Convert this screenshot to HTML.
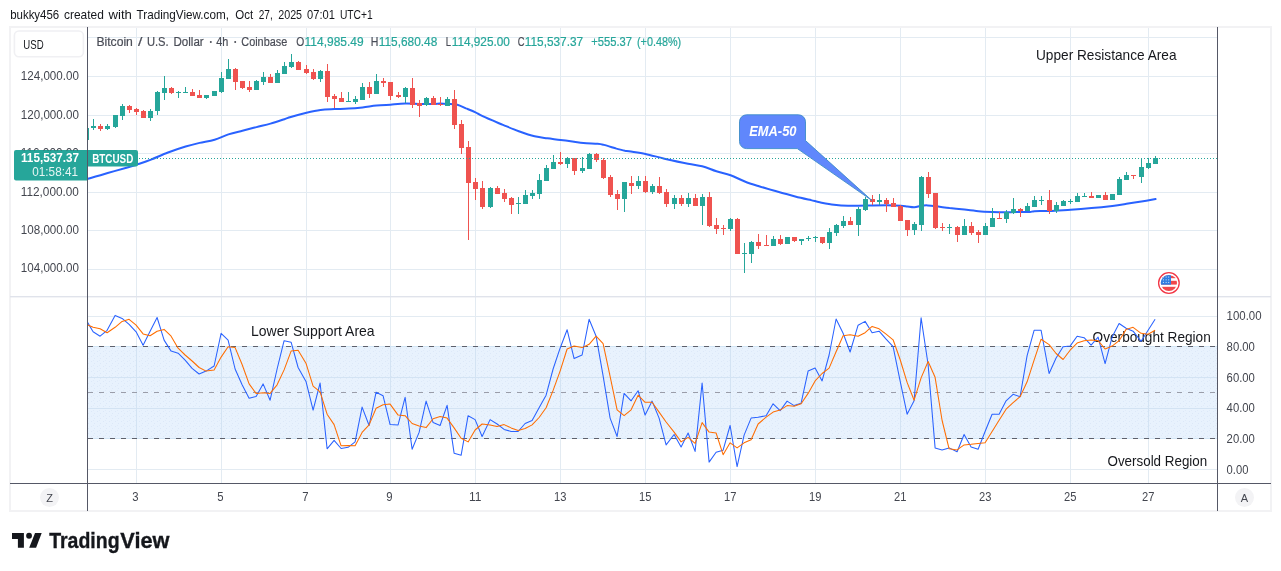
<!DOCTYPE html><html><head><meta charset="utf-8"><title>BTCUSD</title><style>
html,body{margin:0;padding:0;background:#fff;}body{width:1281px;height:571px;overflow:hidden;position:relative;font-family:"Liberation Sans",sans-serif;}
svg{position:absolute;left:0;top:0;display:block;will-change:transform;}text{font-family:"Liberation Sans",sans-serif;}
</style></head><body>
<svg width="1281" height="571" viewBox="0 0 1281 571">
<rect x="0" y="0" width="1281" height="571" fill="#fff"/>
<g shape-rendering="crispEdges">
<rect x="10" y="27" width="1261" height="484" fill="#fff" stroke="#f2f2f4" stroke-width="2"/>
<line x1="136.5" y1="28" x2="136.5" y2="483" stroke="#e3ebf2" stroke-width="1"/>
<line x1="221.5" y1="28" x2="221.5" y2="483" stroke="#e3ebf2" stroke-width="1"/>
<line x1="306.5" y1="28" x2="306.5" y2="483" stroke="#e3ebf2" stroke-width="1"/>
<line x1="390.5" y1="28" x2="390.5" y2="483" stroke="#e3ebf2" stroke-width="1"/>
<line x1="475.5" y1="28" x2="475.5" y2="483" stroke="#e3ebf2" stroke-width="1"/>
<line x1="560.5" y1="28" x2="560.5" y2="483" stroke="#e3ebf2" stroke-width="1"/>
<line x1="645.5" y1="28" x2="645.5" y2="483" stroke="#e3ebf2" stroke-width="1"/>
<line x1="730.5" y1="28" x2="730.5" y2="483" stroke="#e3ebf2" stroke-width="1"/>
<line x1="815.5" y1="28" x2="815.5" y2="483" stroke="#e3ebf2" stroke-width="1"/>
<line x1="900.5" y1="28" x2="900.5" y2="483" stroke="#e3ebf2" stroke-width="1"/>
<line x1="985.5" y1="28" x2="985.5" y2="483" stroke="#e3ebf2" stroke-width="1"/>
<line x1="1070.5" y1="28" x2="1070.5" y2="483" stroke="#e3ebf2" stroke-width="1"/>
<line x1="1148.5" y1="28" x2="1148.5" y2="483" stroke="#e3ebf2" stroke-width="1"/>
<line x1="88" y1="37.5" x2="1217" y2="37.5" stroke="#e3ebf2" stroke-width="1"/>
<line x1="88" y1="76.5" x2="1217" y2="76.5" stroke="#e3ebf2" stroke-width="1"/>
<line x1="88" y1="115.5" x2="1217" y2="115.5" stroke="#e3ebf2" stroke-width="1"/>
<line x1="88" y1="153.5" x2="1217" y2="153.5" stroke="#e3ebf2" stroke-width="1"/>
<line x1="88" y1="192.5" x2="1217" y2="192.5" stroke="#e3ebf2" stroke-width="1"/>
<line x1="88" y1="230.5" x2="1217" y2="230.5" stroke="#e3ebf2" stroke-width="1"/>
<line x1="88" y1="269.5" x2="1217" y2="269.5" stroke="#e3ebf2" stroke-width="1"/>
<line x1="88" y1="316.5" x2="1217" y2="316.5" stroke="#e3ebf2" stroke-width="1"/>
<line x1="88" y1="346.5" x2="1217" y2="346.5" stroke="#e3ebf2" stroke-width="1"/>
<line x1="88" y1="377.5" x2="1217" y2="377.5" stroke="#e3ebf2" stroke-width="1"/>
<line x1="88" y1="408.5" x2="1217" y2="408.5" stroke="#e3ebf2" stroke-width="1"/>
<line x1="88" y1="438.5" x2="1217" y2="438.5" stroke="#e3ebf2" stroke-width="1"/>
<line x1="88" y1="469.5" x2="1217" y2="469.5" stroke="#e3ebf2" stroke-width="1"/>
</g>
<rect x="88" y="346" width="1129" height="93" fill="#e8f2fd"/>
<defs><pattern id="stip" width="6" height="5" patternUnits="userSpaceOnUse"><rect x="1" y="1" width="1" height="1" fill="#dce8f8"/><rect x="4" y="3" width="1" height="1" fill="#dce8f8"/><rect x="3" y="0" width="1" height="1" fill="#e0ebf9"/></pattern></defs>
<rect x="88" y="347" width="1129" height="91" fill="url(#stip)"/>
<rect x="88" y="346" width="1129" height="1" fill="#d3e6f5"/>
<rect x="88" y="438" width="1129" height="1" fill="#d3e6f5"/>
<g shape-rendering="crispEdges">
<line x1="136.5" y1="347" x2="136.5" y2="438" stroke="#d3e3f3" stroke-width="1"/>
<line x1="221.5" y1="347" x2="221.5" y2="438" stroke="#d3e3f3" stroke-width="1"/>
<line x1="306.5" y1="347" x2="306.5" y2="438" stroke="#d3e3f3" stroke-width="1"/>
<line x1="390.5" y1="347" x2="390.5" y2="438" stroke="#d3e3f3" stroke-width="1"/>
<line x1="475.5" y1="347" x2="475.5" y2="438" stroke="#d3e3f3" stroke-width="1"/>
<line x1="560.5" y1="347" x2="560.5" y2="438" stroke="#d3e3f3" stroke-width="1"/>
<line x1="645.5" y1="347" x2="645.5" y2="438" stroke="#d3e3f3" stroke-width="1"/>
<line x1="730.5" y1="347" x2="730.5" y2="438" stroke="#d3e3f3" stroke-width="1"/>
<line x1="815.5" y1="347" x2="815.5" y2="438" stroke="#d3e3f3" stroke-width="1"/>
<line x1="900.5" y1="347" x2="900.5" y2="438" stroke="#d3e3f3" stroke-width="1"/>
<line x1="985.5" y1="347" x2="985.5" y2="438" stroke="#d3e3f3" stroke-width="1"/>
<line x1="1070.5" y1="347" x2="1070.5" y2="438" stroke="#d3e3f3" stroke-width="1"/>
<line x1="1148.5" y1="347" x2="1148.5" y2="438" stroke="#d3e3f3" stroke-width="1"/>
<line x1="88" y1="377.5" x2="1217" y2="377.5" stroke="#d3e3f3" stroke-width="1"/>
<line x1="88" y1="408.5" x2="1217" y2="408.5" stroke="#d3e3f3" stroke-width="1"/>
<line x1="88" y1="346.5" x2="1217" y2="346.5" stroke="#5d606b" stroke-width="1" stroke-dasharray="5 6"/>
<line x1="88" y1="438.5" x2="1217" y2="438.5" stroke="#5d606b" stroke-width="1" stroke-dasharray="5 6"/>
<line x1="88" y1="392.5" x2="1217" y2="392.5" stroke="#9a9da9" stroke-width="1" stroke-dasharray="5 6"/>
</g>
<rect x="10" y="296" width="1261" height="1.4" fill="#e0e3eb"/>
<path d="M88.0,178.9 C91.3,177.9 101.1,174.9 107.7,173.0 C114.3,171.1 122.4,168.9 127.4,167.5 C132.4,166.1 133.7,165.6 137.6,164.3 C141.5,163.0 145.9,161.6 151.0,159.6 C156.1,157.6 162.2,154.7 168.0,152.5 C173.8,150.3 180.3,148.1 185.6,146.5 C190.9,144.9 194.8,144.0 199.6,142.9 C204.4,141.8 209.8,141.1 214.6,139.7 C219.4,138.3 223.8,135.9 228.4,134.4 C233.0,132.9 237.7,131.9 242.4,130.7 C247.1,129.5 251.8,128.3 256.5,127.1 C261.2,125.9 265.9,124.9 270.5,123.6 C275.1,122.3 281.0,120.3 284.4,119.2 C287.8,118.1 287.1,118.1 290.8,117.0 C294.4,115.9 301.6,113.9 306.5,112.7 C311.5,111.5 315.9,110.5 320.5,109.9 C325.2,109.3 329.9,109.3 334.6,109.1 C339.3,108.9 344.0,108.9 348.6,108.6 C353.3,108.4 357.8,108.0 362.5,107.5 C367.1,107.0 371.8,106.1 376.5,105.6 C381.2,105.2 385.7,105.0 390.5,104.7 C395.3,104.3 400.5,103.7 405.3,103.6 C410.2,103.5 414.8,103.8 419.5,103.9 C424.2,104.0 430.0,103.9 433.4,103.9 C436.8,103.9 437.7,103.6 440.0,103.6 C442.3,103.6 444.5,103.7 447.4,103.9 C450.3,104.1 454.2,104.0 457.3,104.7 C460.4,105.5 463.0,107.1 466.0,108.4 C469.0,109.6 472.7,111.0 475.5,112.3 C478.2,113.6 478.0,114.1 482.6,116.2 C487.1,118.4 497.0,122.4 503.0,124.9 C509.1,127.4 513.5,129.3 518.8,131.2 C524.1,133.1 529.8,135.1 534.6,136.3 C539.3,137.4 542.8,137.7 547.2,138.3 C551.5,138.9 556.1,139.3 560.6,139.9 C565.0,140.5 570.2,141.3 574.0,141.8 C577.8,142.3 579.5,142.7 583.4,143.0 C587.4,143.4 594.2,143.5 597.6,143.8 C601.0,144.1 600.8,144.1 603.9,144.9 C607.1,145.7 613.0,147.6 616.5,148.6 C620.0,149.5 622.9,150.3 625.0,150.8 C627.1,151.2 625.7,150.7 629.1,151.2 C632.5,151.8 639.6,152.7 645.5,153.9 C651.4,155.2 657.3,157.0 664.4,158.7 C671.5,160.3 681.7,162.5 688.0,163.7 C694.3,165.0 697.5,165.0 702.2,166.2 C707.0,167.5 711.7,169.8 716.4,171.3 C721.1,172.8 725.9,173.5 730.6,175.2 C735.3,176.9 740.1,179.7 744.8,181.5 C749.5,183.4 753.7,184.6 759.0,186.2 C764.2,187.9 770.3,189.6 776.3,191.3 C782.3,193.0 789.4,195.0 795.2,196.5 C801.0,198.0 806.9,199.2 811.0,200.1 C815.1,201.1 815.9,201.5 819.8,202.3 C823.6,203.0 829.2,204.1 834.0,204.7 C838.7,205.2 844.1,205.6 848.1,205.8 C852.2,205.9 854.3,205.8 858.4,205.8 C862.4,205.7 867.8,205.5 872.5,205.4 C877.1,205.3 881.8,205.2 886.5,205.2 C891.2,205.3 897.2,205.5 900.7,205.7 C904.1,205.9 905.0,206.2 907.3,206.5 C909.6,206.8 912.0,207.4 914.4,207.3 C916.7,207.1 919.2,206.0 921.5,205.7 C923.7,205.4 925.4,205.3 927.8,205.4 C930.1,205.5 931.9,205.7 935.5,206.2 C939.1,206.6 944.7,207.5 949.5,208.1 C954.4,208.6 959.7,209.1 964.5,209.6 C969.3,210.2 973.8,210.8 978.5,211.2 C983.2,211.6 987.9,211.8 992.5,212.0 C997.2,212.2 1001.9,212.3 1006.6,212.3 C1011.2,212.3 1016.5,212.1 1020.4,212.0 C1024.3,212.0 1027.7,212.2 1030.0,212.0 C1032.3,211.9 1031.2,211.4 1034.5,211.2 C1037.7,211.0 1043.4,211.2 1049.4,210.9 C1055.4,210.7 1063.6,210.1 1070.7,209.7 C1077.7,209.2 1084.5,208.7 1091.5,208.1 C1098.4,207.5 1106.6,206.6 1112.4,205.9 C1118.3,205.2 1121.6,204.6 1126.5,203.8 C1131.3,203.1 1136.6,202.3 1141.4,201.5 C1146.3,200.7 1153.2,199.5 1155.6,199.1" fill="none" stroke="#2962ff" stroke-width="2" stroke-linejoin="round" stroke-linecap="round"/>
<g shape-rendering="crispEdges">
<rect x="88" y="128" width="1" height="12" fill="#26a69a"/>
<rect x="93" y="119" width="1" height="11" fill="#26a69a"/>
<rect x="91" y="126" width="5" height="2" fill="#26a69a"/>
<rect x="100" y="124" width="1" height="7" fill="#ef5350"/>
<rect x="98" y="126" width="5" height="3" fill="#ef5350"/>
<rect x="107" y="124" width="1" height="6" fill="#26a69a"/>
<rect x="105" y="126" width="5" height="3" fill="#26a69a"/>
<rect x="115" y="115" width="1" height="13" fill="#26a69a"/>
<rect x="113" y="115" width="5" height="12" fill="#26a69a"/>
<rect x="122" y="104" width="1" height="16" fill="#26a69a"/>
<rect x="120" y="106" width="5" height="10" fill="#26a69a"/>
<rect x="129" y="105" width="1" height="8" fill="#ef5350"/>
<rect x="127" y="106" width="5" height="4" fill="#ef5350"/>
<rect x="136" y="108" width="1" height="7" fill="#ef5350"/>
<rect x="134" y="109" width="5" height="3" fill="#ef5350"/>
<rect x="143" y="110" width="1" height="8" fill="#ef5350"/>
<rect x="141" y="111" width="5" height="7" fill="#ef5350"/>
<rect x="150" y="109" width="1" height="12" fill="#26a69a"/>
<rect x="148" y="111" width="5" height="7" fill="#26a69a"/>
<rect x="157" y="91" width="1" height="24" fill="#26a69a"/>
<rect x="155" y="92" width="5" height="19" fill="#26a69a"/>
<rect x="164" y="76" width="1" height="24" fill="#26a69a"/>
<rect x="162" y="88" width="5" height="5" fill="#26a69a"/>
<rect x="171" y="87" width="1" height="7" fill="#ef5350"/>
<rect x="169" y="88" width="5" height="5" fill="#ef5350"/>
<rect x="178" y="91" width="1" height="7" fill="#26a69a"/>
<rect x="176" y="92" width="5" height="1" fill="#26a69a"/>
<rect x="185" y="87" width="1" height="6" fill="#26a69a"/>
<rect x="183" y="92" width="5" height="1" fill="#26a69a"/>
<rect x="192" y="89" width="1" height="7" fill="#ef5350"/>
<rect x="190" y="92" width="5" height="4" fill="#ef5350"/>
<rect x="199" y="90" width="1" height="8" fill="#ef5350"/>
<rect x="197" y="95" width="5" height="3" fill="#ef5350"/>
<rect x="206" y="95" width="1" height="4" fill="#26a69a"/>
<rect x="204" y="95" width="5" height="3" fill="#26a69a"/>
<rect x="214" y="91" width="1" height="5" fill="#26a69a"/>
<rect x="212" y="91" width="5" height="5" fill="#26a69a"/>
<rect x="221" y="72" width="1" height="21" fill="#26a69a"/>
<rect x="219" y="78" width="5" height="14" fill="#26a69a"/>
<rect x="228" y="59" width="1" height="20" fill="#26a69a"/>
<rect x="226" y="69" width="5" height="10" fill="#26a69a"/>
<rect x="235" y="68" width="1" height="22" fill="#ef5350"/>
<rect x="233" y="69" width="5" height="13" fill="#ef5350"/>
<rect x="242" y="81" width="1" height="8" fill="#ef5350"/>
<rect x="240" y="81" width="5" height="7" fill="#ef5350"/>
<rect x="249" y="81" width="1" height="11" fill="#ef5350"/>
<rect x="247" y="87" width="5" height="3" fill="#ef5350"/>
<rect x="256" y="80" width="1" height="10" fill="#26a69a"/>
<rect x="254" y="81" width="5" height="9" fill="#26a69a"/>
<rect x="263" y="72" width="1" height="13" fill="#26a69a"/>
<rect x="261" y="77" width="5" height="5" fill="#26a69a"/>
<rect x="270" y="74" width="1" height="9" fill="#ef5350"/>
<rect x="268" y="77" width="5" height="6" fill="#ef5350"/>
<rect x="277" y="70" width="1" height="13" fill="#26a69a"/>
<rect x="275" y="73" width="5" height="10" fill="#26a69a"/>
<rect x="284" y="62" width="1" height="12" fill="#26a69a"/>
<rect x="282" y="66" width="5" height="8" fill="#26a69a"/>
<rect x="291" y="54" width="1" height="14" fill="#26a69a"/>
<rect x="289" y="62" width="5" height="5" fill="#26a69a"/>
<rect x="298" y="61" width="1" height="9" fill="#ef5350"/>
<rect x="296" y="62" width="5" height="8" fill="#ef5350"/>
<rect x="306" y="65" width="1" height="9" fill="#ef5350"/>
<rect x="304" y="69" width="5" height="4" fill="#ef5350"/>
<rect x="313" y="69" width="1" height="11" fill="#ef5350"/>
<rect x="311" y="72" width="5" height="7" fill="#ef5350"/>
<rect x="320" y="70" width="1" height="12" fill="#26a69a"/>
<rect x="318" y="71" width="5" height="8" fill="#26a69a"/>
<rect x="327" y="64" width="1" height="38" fill="#ef5350"/>
<rect x="325" y="71" width="5" height="26" fill="#ef5350"/>
<rect x="334" y="94" width="1" height="14" fill="#ef5350"/>
<rect x="332" y="96" width="5" height="3" fill="#ef5350"/>
<rect x="341" y="92" width="1" height="10" fill="#ef5350"/>
<rect x="339" y="98" width="5" height="4" fill="#ef5350"/>
<rect x="348" y="92" width="1" height="10" fill="#26a69a"/>
<rect x="346" y="101" width="5" height="1" fill="#26a69a"/>
<rect x="355" y="96" width="1" height="8" fill="#26a69a"/>
<rect x="353" y="99" width="5" height="3" fill="#26a69a"/>
<rect x="362" y="83" width="1" height="17" fill="#26a69a"/>
<rect x="360" y="87" width="5" height="13" fill="#26a69a"/>
<rect x="369" y="82" width="1" height="16" fill="#ef5350"/>
<rect x="367" y="87" width="5" height="7" fill="#ef5350"/>
<rect x="376" y="74" width="1" height="20" fill="#26a69a"/>
<rect x="374" y="81" width="5" height="13" fill="#26a69a"/>
<rect x="383" y="78" width="1" height="9" fill="#ef5350"/>
<rect x="381" y="81" width="5" height="2" fill="#ef5350"/>
<rect x="390" y="82" width="1" height="18" fill="#ef5350"/>
<rect x="388" y="82" width="5" height="14" fill="#ef5350"/>
<rect x="398" y="92" width="1" height="6" fill="#ef5350"/>
<rect x="396" y="95" width="5" height="2" fill="#ef5350"/>
<rect x="405" y="87" width="1" height="16" fill="#26a69a"/>
<rect x="403" y="88" width="5" height="9" fill="#26a69a"/>
<rect x="412" y="78" width="1" height="30" fill="#ef5350"/>
<rect x="410" y="88" width="5" height="17" fill="#ef5350"/>
<rect x="419" y="100" width="1" height="17" fill="#ef5350"/>
<rect x="417" y="103" width="5" height="3" fill="#ef5350"/>
<rect x="426" y="97" width="1" height="9" fill="#26a69a"/>
<rect x="424" y="98" width="5" height="7" fill="#26a69a"/>
<rect x="433" y="96" width="1" height="9" fill="#ef5350"/>
<rect x="431" y="98" width="5" height="7" fill="#ef5350"/>
<rect x="440" y="97" width="1" height="9" fill="#ef5350"/>
<rect x="438" y="104" width="5" height="1" fill="#ef5350"/>
<rect x="447" y="97" width="1" height="9" fill="#26a69a"/>
<rect x="445" y="99" width="5" height="7" fill="#26a69a"/>
<rect x="454" y="90" width="1" height="39" fill="#ef5350"/>
<rect x="452" y="99" width="5" height="26" fill="#ef5350"/>
<rect x="461" y="120" width="1" height="34" fill="#ef5350"/>
<rect x="459" y="124" width="5" height="24" fill="#ef5350"/>
<rect x="468" y="141" width="1" height="99" fill="#ef5350"/>
<rect x="466" y="147" width="5" height="36" fill="#ef5350"/>
<rect x="475" y="178" width="1" height="22" fill="#ef5350"/>
<rect x="473" y="182" width="5" height="7" fill="#ef5350"/>
<rect x="482" y="181" width="1" height="28" fill="#ef5350"/>
<rect x="480" y="188" width="5" height="19" fill="#ef5350"/>
<rect x="490" y="187" width="1" height="21" fill="#26a69a"/>
<rect x="488" y="188" width="5" height="19" fill="#26a69a"/>
<rect x="497" y="186" width="1" height="8" fill="#ef5350"/>
<rect x="495" y="188" width="5" height="6" fill="#ef5350"/>
<rect x="504" y="189" width="1" height="13" fill="#ef5350"/>
<rect x="502" y="193" width="5" height="6" fill="#ef5350"/>
<rect x="511" y="197" width="1" height="17" fill="#ef5350"/>
<rect x="509" y="198" width="5" height="7" fill="#ef5350"/>
<rect x="518" y="197" width="1" height="17" fill="#26a69a"/>
<rect x="516" y="203" width="5" height="1" fill="#26a69a"/>
<rect x="525" y="190" width="1" height="14" fill="#26a69a"/>
<rect x="523" y="195" width="5" height="9" fill="#26a69a"/>
<rect x="532" y="190" width="1" height="9" fill="#26a69a"/>
<rect x="530" y="193" width="5" height="3" fill="#26a69a"/>
<rect x="539" y="174" width="1" height="25" fill="#26a69a"/>
<rect x="537" y="180" width="5" height="14" fill="#26a69a"/>
<rect x="546" y="165" width="1" height="16" fill="#26a69a"/>
<rect x="544" y="168" width="5" height="13" fill="#26a69a"/>
<rect x="553" y="155" width="1" height="14" fill="#26a69a"/>
<rect x="551" y="162" width="5" height="7" fill="#26a69a"/>
<rect x="560" y="152" width="1" height="13" fill="#ef5350"/>
<rect x="558" y="162" width="5" height="2" fill="#ef5350"/>
<rect x="567" y="157" width="1" height="11" fill="#26a69a"/>
<rect x="565" y="158" width="5" height="6" fill="#26a69a"/>
<rect x="574" y="158" width="1" height="17" fill="#ef5350"/>
<rect x="572" y="158" width="5" height="13" fill="#ef5350"/>
<rect x="582" y="157" width="1" height="16" fill="#26a69a"/>
<rect x="580" y="168" width="5" height="3" fill="#26a69a"/>
<rect x="589" y="153" width="1" height="16" fill="#26a69a"/>
<rect x="587" y="154" width="5" height="15" fill="#26a69a"/>
<rect x="596" y="153" width="1" height="9" fill="#ef5350"/>
<rect x="594" y="154" width="5" height="6" fill="#ef5350"/>
<rect x="603" y="158" width="1" height="21" fill="#ef5350"/>
<rect x="601" y="160" width="5" height="18" fill="#ef5350"/>
<rect x="610" y="175" width="1" height="22" fill="#ef5350"/>
<rect x="608" y="177" width="5" height="18" fill="#ef5350"/>
<rect x="617" y="190" width="1" height="20" fill="#ef5350"/>
<rect x="615" y="194" width="5" height="5" fill="#ef5350"/>
<rect x="624" y="182" width="1" height="30" fill="#26a69a"/>
<rect x="622" y="182" width="5" height="17" fill="#26a69a"/>
<rect x="631" y="176" width="1" height="18" fill="#ef5350"/>
<rect x="629" y="183" width="5" height="3" fill="#ef5350"/>
<rect x="638" y="176" width="1" height="13" fill="#26a69a"/>
<rect x="636" y="181" width="5" height="5" fill="#26a69a"/>
<rect x="645" y="176" width="1" height="17" fill="#ef5350"/>
<rect x="643" y="181" width="5" height="11" fill="#ef5350"/>
<rect x="652" y="184" width="1" height="10" fill="#26a69a"/>
<rect x="650" y="186" width="5" height="6" fill="#26a69a"/>
<rect x="659" y="177" width="1" height="17" fill="#ef5350"/>
<rect x="657" y="186" width="5" height="7" fill="#ef5350"/>
<rect x="666" y="189" width="1" height="18" fill="#ef5350"/>
<rect x="664" y="192" width="5" height="12" fill="#ef5350"/>
<rect x="674" y="195" width="1" height="14" fill="#26a69a"/>
<rect x="672" y="198" width="5" height="6" fill="#26a69a"/>
<rect x="681" y="195" width="1" height="11" fill="#ef5350"/>
<rect x="679" y="198" width="5" height="6" fill="#ef5350"/>
<rect x="688" y="193" width="1" height="14" fill="#26a69a"/>
<rect x="686" y="198" width="5" height="6" fill="#26a69a"/>
<rect x="695" y="194" width="1" height="12" fill="#ef5350"/>
<rect x="693" y="198" width="5" height="8" fill="#ef5350"/>
<rect x="702" y="194" width="1" height="31" fill="#26a69a"/>
<rect x="700" y="197" width="5" height="9" fill="#26a69a"/>
<rect x="709" y="192" width="1" height="35" fill="#ef5350"/>
<rect x="707" y="197" width="5" height="29" fill="#ef5350"/>
<rect x="716" y="218" width="1" height="16" fill="#ef5350"/>
<rect x="714" y="225" width="5" height="4" fill="#ef5350"/>
<rect x="723" y="225" width="1" height="10" fill="#ef5350"/>
<rect x="721" y="228" width="5" height="1" fill="#ef5350"/>
<rect x="730" y="218" width="1" height="13" fill="#26a69a"/>
<rect x="728" y="219" width="5" height="10" fill="#26a69a"/>
<rect x="737" y="218" width="1" height="36" fill="#ef5350"/>
<rect x="735" y="219" width="5" height="35" fill="#ef5350"/>
<rect x="744" y="243" width="1" height="30" fill="#26a69a"/>
<rect x="742" y="253" width="5" height="1" fill="#26a69a"/>
<rect x="751" y="241" width="1" height="22" fill="#26a69a"/>
<rect x="749" y="242" width="5" height="12" fill="#26a69a"/>
<rect x="758" y="234" width="1" height="15" fill="#ef5350"/>
<rect x="756" y="242" width="5" height="4" fill="#ef5350"/>
<rect x="766" y="235" width="1" height="11" fill="#ef5350"/>
<rect x="764" y="245" width="5" height="1" fill="#ef5350"/>
<rect x="773" y="236" width="1" height="10" fill="#26a69a"/>
<rect x="771" y="239" width="5" height="7" fill="#26a69a"/>
<rect x="780" y="235" width="1" height="10" fill="#ef5350"/>
<rect x="778" y="239" width="5" height="5" fill="#ef5350"/>
<rect x="787" y="237" width="1" height="7" fill="#26a69a"/>
<rect x="785" y="237" width="5" height="7" fill="#26a69a"/>
<rect x="794" y="237" width="1" height="5" fill="#ef5350"/>
<rect x="792" y="237" width="5" height="4" fill="#ef5350"/>
<rect x="801" y="239" width="1" height="6" fill="#26a69a"/>
<rect x="799" y="239" width="5" height="2" fill="#26a69a"/>
<rect x="808" y="236" width="1" height="5" fill="#26a69a"/>
<rect x="806" y="238" width="5" height="1" fill="#26a69a"/>
<rect x="815" y="236" width="1" height="6" fill="#26a69a"/>
<rect x="813" y="237" width="5" height="1" fill="#26a69a"/>
<rect x="822" y="237" width="1" height="7" fill="#ef5350"/>
<rect x="820" y="237" width="5" height="6" fill="#ef5350"/>
<rect x="829" y="228" width="1" height="21" fill="#26a69a"/>
<rect x="827" y="232" width="5" height="11" fill="#26a69a"/>
<rect x="836" y="224" width="1" height="12" fill="#26a69a"/>
<rect x="834" y="225" width="5" height="8" fill="#26a69a"/>
<rect x="843" y="216" width="1" height="12" fill="#26a69a"/>
<rect x="841" y="221" width="5" height="5" fill="#26a69a"/>
<rect x="850" y="217" width="1" height="8" fill="#ef5350"/>
<rect x="848" y="221" width="5" height="4" fill="#ef5350"/>
<rect x="858" y="207" width="1" height="29" fill="#26a69a"/>
<rect x="856" y="209" width="5" height="16" fill="#26a69a"/>
<rect x="865" y="197" width="1" height="14" fill="#26a69a"/>
<rect x="863" y="199" width="5" height="11" fill="#26a69a"/>
<rect x="872" y="195" width="1" height="10" fill="#ef5350"/>
<rect x="870" y="199" width="5" height="3" fill="#ef5350"/>
<rect x="879" y="194" width="1" height="11" fill="#26a69a"/>
<rect x="877" y="200" width="5" height="2" fill="#26a69a"/>
<rect x="886" y="198" width="1" height="14" fill="#ef5350"/>
<rect x="884" y="200" width="5" height="4" fill="#ef5350"/>
<rect x="893" y="198" width="1" height="9" fill="#ef5350"/>
<rect x="891" y="203" width="5" height="4" fill="#ef5350"/>
<rect x="900" y="205" width="1" height="16" fill="#ef5350"/>
<rect x="898" y="206" width="5" height="15" fill="#ef5350"/>
<rect x="907" y="220" width="1" height="16" fill="#ef5350"/>
<rect x="905" y="220" width="5" height="10" fill="#ef5350"/>
<rect x="914" y="222" width="1" height="13" fill="#26a69a"/>
<rect x="912" y="224" width="5" height="6" fill="#26a69a"/>
<rect x="921" y="176" width="1" height="55" fill="#26a69a"/>
<rect x="919" y="177" width="5" height="48" fill="#26a69a"/>
<rect x="928" y="172" width="1" height="26" fill="#ef5350"/>
<rect x="926" y="177" width="5" height="17" fill="#ef5350"/>
<rect x="935" y="193" width="1" height="36" fill="#ef5350"/>
<rect x="933" y="193" width="5" height="35" fill="#ef5350"/>
<rect x="942" y="223" width="1" height="8" fill="#ef5350"/>
<rect x="940" y="227" width="5" height="1" fill="#ef5350"/>
<rect x="949" y="224" width="1" height="10" fill="#26a69a"/>
<rect x="947" y="227" width="5" height="1" fill="#26a69a"/>
<rect x="957" y="226" width="1" height="16" fill="#ef5350"/>
<rect x="955" y="227" width="5" height="8" fill="#ef5350"/>
<rect x="964" y="219" width="1" height="16" fill="#26a69a"/>
<rect x="962" y="226" width="5" height="9" fill="#26a69a"/>
<rect x="971" y="222" width="1" height="13" fill="#ef5350"/>
<rect x="969" y="226" width="5" height="7" fill="#ef5350"/>
<rect x="978" y="230" width="1" height="13" fill="#ef5350"/>
<rect x="976" y="232" width="5" height="3" fill="#ef5350"/>
<rect x="985" y="223" width="1" height="12" fill="#26a69a"/>
<rect x="983" y="226" width="5" height="9" fill="#26a69a"/>
<rect x="992" y="208" width="1" height="19" fill="#26a69a"/>
<rect x="990" y="218" width="5" height="9" fill="#26a69a"/>
<rect x="999" y="212" width="1" height="7" fill="#ef5350"/>
<rect x="997" y="218" width="5" height="1" fill="#ef5350"/>
<rect x="1006" y="210" width="1" height="13" fill="#26a69a"/>
<rect x="1004" y="212" width="5" height="7" fill="#26a69a"/>
<rect x="1013" y="198" width="1" height="16" fill="#26a69a"/>
<rect x="1011" y="209" width="5" height="4" fill="#26a69a"/>
<rect x="1020" y="208" width="1" height="9" fill="#ef5350"/>
<rect x="1018" y="209" width="5" height="2" fill="#ef5350"/>
<rect x="1027" y="203" width="1" height="8" fill="#26a69a"/>
<rect x="1025" y="206" width="5" height="5" fill="#26a69a"/>
<rect x="1034" y="196" width="1" height="11" fill="#26a69a"/>
<rect x="1032" y="200" width="5" height="7" fill="#26a69a"/>
<rect x="1041" y="196" width="1" height="9" fill="#26a69a"/>
<rect x="1039" y="200" width="5" height="1" fill="#26a69a"/>
<rect x="1049" y="190" width="1" height="24" fill="#ef5350"/>
<rect x="1047" y="200" width="5" height="11" fill="#ef5350"/>
<rect x="1056" y="202" width="1" height="11" fill="#26a69a"/>
<rect x="1054" y="205" width="5" height="6" fill="#26a69a"/>
<rect x="1063" y="200" width="1" height="6" fill="#26a69a"/>
<rect x="1061" y="201" width="5" height="5" fill="#26a69a"/>
<rect x="1070" y="199" width="1" height="5" fill="#26a69a"/>
<rect x="1068" y="201" width="5" height="1" fill="#26a69a"/>
<rect x="1077" y="193" width="1" height="9" fill="#26a69a"/>
<rect x="1075" y="196" width="5" height="6" fill="#26a69a"/>
<rect x="1084" y="193" width="1" height="4" fill="#26a69a"/>
<rect x="1082" y="196" width="5" height="1" fill="#26a69a"/>
<rect x="1091" y="192" width="1" height="6" fill="#ef5350"/>
<rect x="1089" y="196" width="5" height="2" fill="#ef5350"/>
<rect x="1098" y="195" width="1" height="3" fill="#26a69a"/>
<rect x="1096" y="195" width="5" height="3" fill="#26a69a"/>
<rect x="1105" y="192" width="1" height="8" fill="#ef5350"/>
<rect x="1103" y="195" width="5" height="5" fill="#ef5350"/>
<rect x="1112" y="194" width="1" height="6" fill="#26a69a"/>
<rect x="1110" y="194" width="5" height="6" fill="#26a69a"/>
<rect x="1119" y="177" width="1" height="18" fill="#26a69a"/>
<rect x="1117" y="179" width="5" height="16" fill="#26a69a"/>
<rect x="1126" y="172" width="1" height="8" fill="#26a69a"/>
<rect x="1124" y="175" width="5" height="5" fill="#26a69a"/>
<rect x="1133" y="175" width="1" height="4" fill="#ef5350"/>
<rect x="1131" y="175" width="5" height="1" fill="#ef5350"/>
<rect x="1141" y="158" width="1" height="25" fill="#26a69a"/>
<rect x="1139" y="167" width="5" height="10" fill="#26a69a"/>
<rect x="1148" y="158" width="1" height="11" fill="#26a69a"/>
<rect x="1146" y="163" width="5" height="5" fill="#26a69a"/>
<rect x="1155" y="156" width="1" height="8" fill="#26a69a"/>
<rect x="1153" y="158" width="5" height="6" fill="#26a69a"/>
</g>
<line x1="139" y1="158.5" x2="1217" y2="158.5" stroke="#26a69a" stroke-width="1" stroke-dasharray="1 2" shape-rendering="crispEdges"/>
<text x="1036" y="60.4" font-size="14.3" fill="#16181d" textLength="140.5" lengthAdjust="spacingAndGlyphs">Upper Resistance Area</text>
<text x="251" y="336.3" font-size="14.3" fill="#16181d" textLength="123.6" lengthAdjust="spacingAndGlyphs">Lower Support Area</text>
<text x="1092.6" y="342.2" font-size="14.3" fill="#16181d" textLength="118.2" lengthAdjust="spacingAndGlyphs">Overbought Region</text>
<text x="1107.5" y="465.7" font-size="14.3" fill="#16181d" textLength="99.7" lengthAdjust="spacingAndGlyphs">Oversold Region</text>
<clipPath id="cp"><rect x="88" y="297" width="1129" height="186"/></clipPath>
<polyline clip-path="url(#cp)" points="86.1,319.9 93.1,331.8 100.1,336.2 107.1,330.3 115.1,315.4 122.1,318.4 129.1,324.3 136.1,331.8 143.1,345.2 150.1,331.2 157.1,317.5 164.1,340.1 171.1,351.1 178.1,353.2 185.1,360.1 192.1,368.4 199.1,374.0 206.1,371.1 214.1,366.0 221.1,333.3 228.1,340.1 235.1,369.0 242.1,384.8 249.1,398.2 256.1,396.4 263.1,383.9 270.1,400.2 277.1,369.0 284.1,340.7 291.1,342.2 298.1,367.5 306.1,381.8 313.1,410.1 320.1,383.0 327.1,448.8 334.1,440.4 341.1,448.5 348.1,447.3 355.1,441.9 362.1,407.1 369.1,425.5 376.1,392.2 383.1,395.8 390.1,424.6 398.1,424.9 405.1,397.3 412.1,449.3 419.1,432.4 426.1,401.1 433.1,422.6 440.1,425.5 447.1,405.3 454.1,453.2 461.1,455.3 468.1,415.7 475.1,419.6 482.1,436.5 490.1,419.6 497.1,424.0 504.1,429.4 511.1,431.5 518.1,431.5 525.1,423.5 532.1,420.5 539.1,407.7 546.1,395.2 553.1,369.0 560.1,348.2 567.1,329.7 574.1,358.6 582.1,355.0 589.1,319.3 596.1,336.2 603.1,375.8 610.1,418.1 617.1,436.5 624.1,393.4 631.1,400.8 638.1,390.7 645.1,415.1 652.1,401.1 659.1,418.1 666.1,444.9 674.1,434.5 681.1,447.0 688.1,433.0 695.1,451.4 702.1,383.0 709.1,462.1 716.1,452.3 723.1,450.2 730.1,425.5 737.1,466.6 744.1,435.1 751.1,418.1 758.1,417.2 766.1,415.7 773.1,403.8 780.1,410.7 787.1,401.1 794.1,405.6 801.1,403.2 808.1,371.1 815.1,368.1 822.1,380.9 829.1,355.0 836.1,319.0 843.1,333.3 850.1,352.0 858.1,325.2 865.1,321.4 872.1,332.7 879.1,331.2 886.1,339.2 893.1,346.7 900.1,380.9 907.1,414.2 914.1,400.8 921.1,317.8 928.1,364.5 935.1,447.9 942.1,449.9 949.1,447.9 957.1,451.7 964.1,434.5 971.1,447.0 978.1,449.3 985.1,431.5 992.1,414.2 999.1,414.2 1006.1,400.8 1013.1,394.3 1020.1,396.7 1027.1,355.6 1034.1,330.3 1041.1,330.3 1049.1,373.5 1056.1,358.0 1063.1,346.7 1070.1,346.1 1077.1,336.2 1084.1,337.7 1091.1,345.2 1098.1,337.1 1105.1,363.6 1112.1,337.1 1119.1,323.5 1126.1,328.2 1133.1,331.2 1141.1,341.3 1148.1,330.3 1155.1,319.3" fill="none" stroke="#2962ff" stroke-width="1.05" stroke-linejoin="round"/>
<polyline clip-path="url(#cp)" points="86.1,324.3 93.1,327.3 100.1,328.8 107.1,332.7 115.1,327.3 122.1,321.4 129.1,319.3 136.1,325.2 143.1,333.9 150.1,335.7 157.1,331.2 164.1,329.4 171.1,336.2 178.1,348.2 185.1,355.0 192.1,361.0 199.1,367.5 206.1,371.1 214.1,369.9 221.1,357.1 228.1,346.7 235.1,347.6 242.1,364.5 249.1,383.9 256.1,393.4 263.1,392.8 270.1,393.4 277.1,384.8 284.1,369.9 291.1,351.1 298.1,350.2 306.1,363.6 313.1,386.2 320.1,391.9 327.1,414.2 334.1,424.6 341.1,445.8 348.1,445.5 355.1,445.8 362.1,432.4 369.1,424.9 376.1,408.3 383.1,404.7 390.1,404.1 398.1,415.1 405.1,415.7 412.1,423.5 419.1,426.1 426.1,427.6 433.1,418.7 440.1,416.6 447.1,418.1 454.1,427.9 461.1,438.3 468.1,441.9 475.1,430.0 482.1,424.0 490.1,424.9 497.1,426.4 504.1,424.6 511.1,427.9 518.1,430.6 525.1,428.5 532.1,424.9 539.1,417.5 546.1,407.7 553.1,390.4 560.1,371.1 567.1,349.0 574.1,346.1 582.1,347.6 589.1,344.3 596.1,336.2 603.1,343.7 610.1,376.4 617.1,409.8 624.1,415.7 631.1,409.8 638.1,395.2 645.1,402.3 652.1,402.3 659.1,412.1 666.1,422.0 674.1,432.1 681.1,441.9 688.1,437.4 695.1,443.4 702.1,422.6 709.1,432.1 716.1,433.0 723.1,454.7 730.1,442.8 737.1,447.9 744.1,442.8 751.1,439.8 758.1,424.0 766.1,417.2 773.1,412.1 780.1,410.1 787.1,405.6 794.1,406.2 801.1,403.8 808.1,393.4 815.1,380.9 822.1,373.5 829.1,368.1 836.1,351.7 843.1,335.7 850.1,334.8 858.1,336.2 865.1,332.7 872.1,326.4 879.1,328.8 886.1,334.2 893.1,339.8 900.1,359.5 907.1,382.4 914.1,400.2 921.1,377.9 928.1,361.5 935.1,377.3 942.1,420.5 949.1,448.8 957.1,449.9 964.1,444.9 971.1,444.3 978.1,443.4 985.1,442.8 992.1,431.5 999.1,420.2 1006.1,409.2 1013.1,402.6 1020.1,396.7 1027.1,381.8 1034.1,360.1 1041.1,339.2 1049.1,344.6 1056.1,353.5 1063.1,359.5 1070.1,350.2 1077.1,343.1 1084.1,340.7 1091.1,340.1 1098.1,340.7 1105.1,349.0 1112.1,346.1 1119.1,340.7 1126.1,329.4 1133.1,327.3 1141.1,333.3 1148.1,334.2 1155.1,330.3" fill="none" stroke="#ff6d00" stroke-width="1.05" stroke-linejoin="round"/>
<path d="M746.5,114.8 H798.5 a7,7 0 0 1 7,7 V140.6 L872,200.6 L797.3,148.6 H746.5 a7,7 0 0 1 -7,-7 V121.8 a7,7 0 0 1 7,-7 Z" fill="#6087fc" stroke="#3c8cc8" stroke-width="0.9" stroke-linejoin="round"/>
<text x="749.2" y="136.2" font-size="14" font-weight="bold" font-style="italic" fill="#fff" textLength="47.3" lengthAdjust="spacingAndGlyphs">EMA-50</text>
<g transform="translate(1168.9,283)">
<circle r="10.3" fill="#fff" stroke="#f23645" stroke-width="1.3"/>
<clipPath id="fc"><circle r="8.1"/></clipPath>
<g clip-path="url(#fc)"><rect x="-9" y="-9" width="18" height="18" fill="#fff"/>
<rect x="-9" y="-7.5" width="18" height="2.7" fill="#f0484c"/>
<rect x="-9" y="-2.2" width="18" height="3.8" fill="#f0484c"/>
<rect x="-9" y="3.8" width="18" height="4.4" fill="#f0484c"/>
<rect x="-9" y="-9" width="11.1" height="10.7" fill="#2f7de1"/>
<rect x="-6.0" y="-6.5" width="1.1" height="1.1" fill="#bcd6f5"/>
<rect x="-3.3" y="-6.5" width="1.1" height="1.1" fill="#bcd6f5"/>
<rect x="-0.8" y="-6.5" width="1.1" height="1.1" fill="#bcd6f5"/>
<rect x="-6.0" y="-3.7" width="1.1" height="1.1" fill="#bcd6f5"/>
<rect x="-3.3" y="-3.7" width="1.1" height="1.1" fill="#bcd6f5"/>
<rect x="-0.8" y="-3.7" width="1.1" height="1.1" fill="#bcd6f5"/>
<rect x="-6.0" y="-1.1" width="1.1" height="1.1" fill="#bcd6f5"/>
<rect x="-3.3" y="-1.1" width="1.1" height="1.1" fill="#bcd6f5"/>
<rect x="-0.8" y="-1.1" width="1.1" height="1.1" fill="#bcd6f5"/>
</g></g>
<path d="M16,150 H87 V180.4 H16 a2,2 0 0 1 -2,-2 V152 a2,2 0 0 1 2,-2 Z" fill="#26a69a"/>
<path d="M88,150 H136 a2,2 0 0 1 2,2 V164.6 a2,2 0 0 1 -2,2 H88 Z" fill="#26a69a"/>
<text x="21" y="162" font-size="12.1" font-weight="bold" fill="#fff" textLength="58" lengthAdjust="spacingAndGlyphs">115,537.37</text>
<text x="32.3" y="175.8" font-size="12.2" fill="#e6f5f3" textLength="45.7" lengthAdjust="spacingAndGlyphs">01:58:41</text>
<text x="92.2" y="162.5" font-size="11.9" font-weight="bold" fill="#fff" textLength="41.1" lengthAdjust="spacingAndGlyphs">BTCUSD</text>
<g>
<rect x="87" y="27" width="1" height="484" fill="#555866"/>
<rect x="1217" y="27" width="1" height="484" fill="#555866"/>
<rect x="10" y="483" width="1261" height="1" fill="#555866"/>
</g>
<text x="20.8" y="79.9" font-size="12.4" fill="#43464f" textLength="58.1" lengthAdjust="spacingAndGlyphs">124,000.00</text>
<text x="20.8" y="118.5" font-size="12.4" fill="#43464f" textLength="58.1" lengthAdjust="spacingAndGlyphs">120,000.00</text>
<text x="20.8" y="195.6" font-size="12.4" fill="#43464f" textLength="58.1" lengthAdjust="spacingAndGlyphs">112,000.00</text>
<text x="20.8" y="233.9" font-size="12.4" fill="#43464f" textLength="58.1" lengthAdjust="spacingAndGlyphs">108,000.00</text>
<text x="20.8" y="272.4" font-size="12.4" fill="#43464f" textLength="58.1" lengthAdjust="spacingAndGlyphs">104,000.00</text>
<clipPath id="c116"><rect x="14" y="140" width="74" height="10.5"/></clipPath>
<text clip-path="url(#c116)" x="20.8" y="157.1" font-size="12.4" fill="#43464f" textLength="58.1" lengthAdjust="spacingAndGlyphs">116,000.00</text>
<text x="1226.6" y="320.4" font-size="12.4" fill="#43464f" textLength="35.0" lengthAdjust="spacingAndGlyphs">100.00</text>
<text x="1226.6" y="350.6" font-size="12.4" fill="#43464f" textLength="28.3" lengthAdjust="spacingAndGlyphs">80.00</text>
<text x="1226.6" y="381.5" font-size="12.4" fill="#43464f" textLength="28.3" lengthAdjust="spacingAndGlyphs">60.00</text>
<text x="1226.6" y="412.4" font-size="12.4" fill="#43464f" textLength="28.3" lengthAdjust="spacingAndGlyphs">40.00</text>
<text x="1226.6" y="442.6" font-size="12.4" fill="#43464f" textLength="28.3" lengthAdjust="spacingAndGlyphs">20.00</text>
<text x="1226.6" y="473.5" font-size="12.4" fill="#43464f" textLength="21.8" lengthAdjust="spacingAndGlyphs">0.00</text>
<text x="132.2" y="500.8" font-size="12.3" fill="#43464f" textLength="6.3" lengthAdjust="spacingAndGlyphs">3</text>
<text x="217.2" y="500.8" font-size="12.3" fill="#43464f" textLength="6.3" lengthAdjust="spacingAndGlyphs">5</text>
<text x="302.2" y="500.8" font-size="12.3" fill="#43464f" textLength="6.3" lengthAdjust="spacingAndGlyphs">7</text>
<text x="386.2" y="500.8" font-size="12.3" fill="#43464f" textLength="6.3" lengthAdjust="spacingAndGlyphs">9</text>
<text x="469.1" y="500.8" font-size="12.3" fill="#43464f" textLength="12.4" lengthAdjust="spacingAndGlyphs">11</text>
<text x="554.1" y="500.8" font-size="12.3" fill="#43464f" textLength="12.4" lengthAdjust="spacingAndGlyphs">13</text>
<text x="639.1" y="500.8" font-size="12.3" fill="#43464f" textLength="12.4" lengthAdjust="spacingAndGlyphs">15</text>
<text x="724.1" y="500.8" font-size="12.3" fill="#43464f" textLength="12.4" lengthAdjust="spacingAndGlyphs">17</text>
<text x="809.1" y="500.8" font-size="12.3" fill="#43464f" textLength="12.4" lengthAdjust="spacingAndGlyphs">19</text>
<text x="894.1" y="500.8" font-size="12.3" fill="#43464f" textLength="12.4" lengthAdjust="spacingAndGlyphs">21</text>
<text x="979.1" y="500.8" font-size="12.3" fill="#43464f" textLength="12.4" lengthAdjust="spacingAndGlyphs">23</text>
<text x="1064.1" y="500.8" font-size="12.3" fill="#43464f" textLength="12.4" lengthAdjust="spacingAndGlyphs">25</text>
<text x="1142.1" y="500.8" font-size="12.3" fill="#43464f" textLength="12.4" lengthAdjust="spacingAndGlyphs">27</text>
<rect x="14.4" y="31" width="69" height="25.8" rx="4.5" fill="#fff" stroke="#f0f0f3" stroke-width="1.6"/>
<text x="23.3" y="48.7" font-size="13.2" fill="#15171c" textLength="20.3" lengthAdjust="spacingAndGlyphs">USD</text>
<circle cx="49.5" cy="497.5" r="9.5" fill="#f3f3f5"/>
<text x="49.5" y="502" font-size="11" fill="#43464f" text-anchor="middle">Z</text>
<circle cx="1244.5" cy="497.5" r="9.5" fill="#f3f3f5"/>
<text x="1244.5" y="502" font-size="11" fill="#43464f" text-anchor="middle">A</text>
<text x="10.15" y="19" font-size="12.6" fill="#15171c" textLength="49.1" lengthAdjust="spacingAndGlyphs">bukky456</text>
<text x="64" y="19" font-size="12.6" fill="#15171c" textLength="39.8" lengthAdjust="spacingAndGlyphs">created</text>
<text x="108.5" y="19" font-size="12.6" fill="#15171c" textLength="23.4" lengthAdjust="spacingAndGlyphs">with</text>
<text x="136.6" y="19" font-size="12.6" fill="#15171c" textLength="92.4" lengthAdjust="spacingAndGlyphs">TradingView.com,</text>
<text x="235.3" y="19" font-size="12.6" fill="#15171c" textLength="17.9" lengthAdjust="spacingAndGlyphs">Oct</text>
<text x="258.7" y="19" font-size="12.6" fill="#15171c" textLength="14.0" lengthAdjust="spacingAndGlyphs">27,</text>
<text x="278.2" y="19" font-size="12.6" fill="#15171c" textLength="23.9" lengthAdjust="spacingAndGlyphs">2025</text>
<text x="307.1" y="19" font-size="12.6" fill="#15171c" textLength="27.8" lengthAdjust="spacingAndGlyphs">07:01</text>
<text x="339.9" y="19" font-size="12.6" fill="#15171c" textLength="32.8" lengthAdjust="spacingAndGlyphs">UTC+1</text>
<text x="96.4" y="45.7" font-size="12.5" fill="#4a4d57" stroke="#4a4d57" stroke-width="0.2" textLength="36.5" lengthAdjust="spacingAndGlyphs" >Bitcoin</text>
<text x="137.9" y="45.7" font-size="12.5" fill="#4a4d57" stroke="#4a4d57" stroke-width="0.2" textLength="4.4" lengthAdjust="spacingAndGlyphs" >/</text>
<text x="146.9" y="45.7" font-size="12.5" fill="#4a4d57" stroke="#4a4d57" stroke-width="0.2" textLength="21.8" lengthAdjust="spacingAndGlyphs" >U.S.</text>
<text x="173.5" y="45.7" font-size="12.5" fill="#4a4d57" stroke="#4a4d57" stroke-width="0.2" textLength="30.2" lengthAdjust="spacingAndGlyphs" >Dollar</text>
<text x="216.3" y="45.7" font-size="12.5" fill="#4a4d57" stroke="#4a4d57" stroke-width="0.2" textLength="12.1" lengthAdjust="spacingAndGlyphs" >4h</text>
<text x="241.3" y="45.7" font-size="12.5" fill="#4a4d57" stroke="#4a4d57" stroke-width="0.2" textLength="45.9" lengthAdjust="spacingAndGlyphs" >Coinbase</text>
<circle cx="210.8" cy="41.9" r="1" fill="#4a4d57"/><circle cx="235.2" cy="41.9" r="1" fill="#4a4d57"/>
<text x="296.2" y="45.7" font-size="12.5" fill="#4a4d57" stroke="#4a4d57" stroke-width="0.2" textLength="8" lengthAdjust="spacingAndGlyphs" >O</text>
<text x="304.6" y="45.7" font-size="12.5" fill="#26a69a" stroke="#26a69a" stroke-width="0.2" textLength="59" lengthAdjust="spacingAndGlyphs" >114,985.49</text>
<text x="370.7" y="45.7" font-size="12.5" fill="#4a4d57" stroke="#4a4d57" stroke-width="0.2" textLength="7.6" lengthAdjust="spacingAndGlyphs" >H</text>
<text x="378.8" y="45.7" font-size="12.5" fill="#26a69a" stroke="#26a69a" stroke-width="0.2" textLength="58.5" lengthAdjust="spacingAndGlyphs" >115,680.48</text>
<text x="445.7" y="45.7" font-size="12.5" fill="#4a4d57" stroke="#4a4d57" stroke-width="0.2" textLength="5.3" lengthAdjust="spacingAndGlyphs" >L</text>
<text x="451.7" y="45.7" font-size="12.5" fill="#26a69a" stroke="#26a69a" stroke-width="0.2" textLength="58.2" lengthAdjust="spacingAndGlyphs" >114,925.00</text>
<text x="517.8" y="45.7" font-size="12.5" fill="#4a4d57" stroke="#4a4d57" stroke-width="0.2" textLength="6.8" lengthAdjust="spacingAndGlyphs" >C</text>
<text x="524.8" y="45.7" font-size="12.5" fill="#26a69a" stroke="#26a69a" stroke-width="0.2" textLength="58.3" lengthAdjust="spacingAndGlyphs" >115,537.37</text>
<text x="591.2" y="45.7" font-size="12.5" fill="#26a69a" stroke="#26a69a" stroke-width="0.2" textLength="40.8" lengthAdjust="spacingAndGlyphs" >+555.37</text>
<text x="637.0" y="45.7" font-size="12.5" fill="#26a69a" stroke="#26a69a" stroke-width="0.2" textLength="44.2" lengthAdjust="spacingAndGlyphs" >(+0.48%)</text>
<g fill="#15171c">
<path d="M12,533 H23.9 V547.8 H17.9 V539 H12 Z"/>
<circle cx="29.05" cy="535.75" r="2.9"/>
<path d="M35.05,533 H41.7 L36.07,547.8 H29.2 Z"/>
<text x="49.2" y="547.7" font-size="21.3" font-weight="bold" stroke="#15171c" stroke-width="0.35" textLength="70.4" lengthAdjust="spacingAndGlyphs">Trading</text>
<text x="120.3" y="547.7" font-size="21.3" font-weight="bold" stroke="#15171c" stroke-width="0.35" textLength="49.2" lengthAdjust="spacingAndGlyphs">View</text>
</g>
</svg></body></html>
